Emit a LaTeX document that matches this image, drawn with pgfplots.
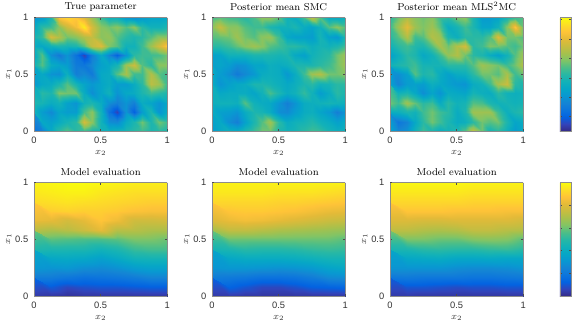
\documentclass[border=0pt]{standalone}
\usepackage{fontspec}
\usepackage{pgfplots}
\usepackage{pgfplotstable}
\pgfplotsset{compat=1.18}
\newfontfamily\tickfont{Liberation Sans}

% every panel: 17 columns x 13 rows on top, 9 x 13 below, row by row from x1=1 down to x1=0
\pgfplotstableread[row sep=\\]{
z\\
1.0\\1.2\\2.0\\4.3\\4.6\\4.4\\4.0\\3.2\\2.4\\1.8\\1.8\\1.2\\1.0\\1.2\\1.4\\1.4\\1.5\\
1.5\\2.2\\2.4\\3.0\\3.7\\4.2\\4.9\\3.8\\3.0\\2.8\\3.0\\2.6\\3.0\\2.2\\1.8\\1.8\\2.0\\
1.9\\2.3\\3.8\\3.4\\2.8\\3.0\\3.4\\3.6\\3.0\\3.1\\2.6\\2.2\\2.0\\2.2\\2.6\\3.0\\3.0\\
1.6\\1.5\\1.8\\2.0\\1.9\\2.0\\2.6\\3.6\\3.9\\2.9\\2.6\\1.8\\1.8\\2.4\\3.2\\3.8\\4.4\\
1.5\\2.6\\0.9\\0.5\\1.0\\0.3\\-0.4\\0.6\\1.5\\0.7\\0.0\\1.0\\2.2\\2.4\\2.4\\2.5\\2.8\\
1.8\\2.6\\1.6\\1.4\\1.2\\0.5\\0.4\\0.8\\1.3\\1.5\\1.9\\3.2\\3.7\\2.6\\2.2\\3.0\\3.0\\
1.4\\1.5\\1.0\\0.9\\1.7\\0.6\\0.8\\0.5\\1.5\\1.6\\2.6\\3.3\\2.4\\2.4\\3.4\\2.6\\2.4\\
1.1\\1.5\\1.6\\2.0\\2.6\\1.9\\1.4\\1.1\\1.4\\1.6\\1.2\\1.2\\1.6\\2.2\\3.5\\3.2\\2.4\\
1.6\\2.2\\2.0\\2.9\\2.8\\2.8\\1.6\\0.9\\1.4\\1.8\\1.0\\1.5\\1.6\\2.0\\2.4\\2.2\\2.0\\
2.0\\1.9\\1.6\\1.8\\1.3\\1.0\\1.8\\2.0\\1.6\\0.9\\0.6\\1.0\\0.6\\1.6\\1.4\\1.0\\1.5\\
1.8\\1.2\\0.8\\1.4\\1.2\\1.2\\2.5\\3.0\\1.8\\0.3\\-0.4\\1.0\\0.0\\1.2\\2.0\\1.0\\1.6\\
1.0\\1.5\\1.3\\1.6\\1.9\\2.2\\3.8\\3.0\\1.8\\0.9\\0.8\\1.6\\2.0\\2.8\\2.0\\2.8\\2.4\\
0.3\\0.6\\1.5\\2.2\\2.6\\2.2\\2.4\\2.0\\1.8\\1.7\\1.8\\2.0\\2.2\\2.4\\2.0\\2.2\\2.0\\
}\trueparam

\pgfplotstableread[row sep=\\]{
z\\
2.5\\2.7\\2.5\\2.4\\2.2\\2.5\\3.0\\3.0\\2.6\\1.8\\1.6\\2.4\\3.5\\2.6\\1.6\\1.6\\1.8\\
3.0\\3.6\\3.0\\3.0\\2.6\\2.4\\2.4\\2.0\\1.8\\1.8\\2.0\\1.6\\1.4\\1.8\\2.6\\3.0\\2.6\\
2.6\\2.7\\2.8\\3.2\\2.8\\2.6\\3.0\\3.1\\2.4\\1.5\\1.3\\1.3\\1.2\\1.9\\1.3\\1.1\\2.0\\
2.2\\2.2\\2.4\\2.7\\3.0\\3.2\\3.0\\2.6\\2.4\\2.2\\2.2\\2.0\\1.7\\1.9\\1.8\\2.0\\2.4\\
1.3\\1.4\\1.8\\1.8\\1.8\\2.0\\2.0\\2.0\\1.9\\2.0\\1.5\\1.3\\1.8\\2.0\\2.2\\2.8\\3.2\\
1.3\\1.4\\1.2\\0.9\\1.0\\1.4\\1.4\\1.7\\1.6\\1.7\\2.0\\2.0\\2.0\\2.2\\2.4\\2.8\\3.2\\
1.6\\1.2\\0.9\\0.5\\0.8\\1.1\\1.6\\1.7\\1.6\\1.1\\1.6\\2.4\\3.2\\3.4\\2.8\\2.8\\3.0\\
1.6\\1.0\\1.3\\1.5\\1.6\\2.0\\2.0\\1.9\\1.7\\1.5\\1.7\\2.0\\2.2\\1.8\\1.9\\2.2\\2.2\\
1.7\\1.5\\1.6\\1.6\\1.6\\1.4\\1.8\\2.5\\2.0\\1.6\\1.8\\2.3\\1.8\\1.2\\1.6\\2.2\\2.0\\
1.7\\1.8\\1.8\\1.7\\2.6\\1.8\\1.6\\1.5\\1.0\\0.6\\1.0\\1.6\\1.7\\1.8\\1.9\\1.8\\1.7\\
1.6\\1.3\\1.2\\1.0\\1.6\\2.0\\1.9\\1.6\\0.9\\0.8\\1.2\\1.6\\1.7\\1.4\\1.1\\0.6\\1.0\\
1.4\\1.5\\0.9\\0.6\\1.3\\2.0\\2.6\\3.2\\2.2\\1.6\\1.8\\1.9\\2.1\\1.8\\1.6\\1.3\\1.6\\
1.2\\1.5\\1.7\\1.6\\2.0\\2.4\\2.8\\2.8\\2.0\\1.8\\1.9\\2.2\\2.4\\2.3\\1.9\\1.7\\1.8\\
}\meansmc

\pgfplotstableread[row sep=\\]{
z\\
2.2\\2.8\\3.4\\3.0\\2.8\\3.0\\2.4\\2.2\\2.8\\3.0\\2.0\\1.2\\1.2\\1.4\\2.0\\2.4\\2.6\\
2.4\\3.2\\4.0\\3.2\\2.9\\3.2\\2.6\\1.6\\1.9\\2.4\\2.0\\1.4\\1.4\\1.8\\3.0\\4.4\\2.8\\
2.2\\2.6\\3.4\\2.4\\2.6\\3.4\\3.2\\2.0\\1.7\\2.2\\2.2\\2.2\\2.6\\3.9\\2.8\\2.8\\2.6\\
1.8\\2.2\\2.4\\2.1\\2.0\\2.6\\3.3\\2.8\\3.4\\3.8\\2.2\\2.4\\2.9\\2.8\\2.6\\2.4\\2.8\\
1.3\\1.7\\2.2\\2.0\\1.5\\1.8\\2.4\\3.1\\3.4\\2.8\\2.2\\2.0\\1.6\\1.3\\1.8\\2.6\\3.2\\
1.8\\2.0\\2.2\\2.4\\1.9\\1.9\\1.9\\2.2\\2.2\\2.2\\2.6\\3.2\\3.0\\2.8\\2.4\\2.8\\3.4\\
1.2\\0.9\\1.3\\2.6\\2.0\\2.2\\1.6\\1.3\\1.6\\1.7\\2.2\\2.8\\2.8\\2.6\\3.3\\2.4\\2.8\\
1.3\\0.7\\1.2\\1.3\\1.2\\1.7\\1.5\\1.3\\1.1\\1.0\\1.6\\1.8\\2.4\\3.3\\3.7\\2.2\\2.0\\
2.2\\1.8\\2.0\\1.5\\0.9\\1.4\\1.0\\1.6\\1.5\\1.4\\1.9\\1.7\\1.6\\2.2\\1.8\\1.7\\1.8\\
2.8\\2.4\\3.2\\2.7\\2.2\\2.4\\1.6\\2.2\\1.8\\1.9\\2.6\\2.5\\2.0\\1.8\\1.9\\1.8\\1.9\\
1.6\\1.7\\2.0\\1.8\\2.4\\2.8\\2.4\\2.2\\1.6\\2.0\\3.2\\3.2\\3.2\\2.4\\1.7\\2.0\\2.2\\
0.9\\0.4\\0.7\\1.5\\2.2\\2.8\\2.4\\2.0\\1.6\\1.7\\2.2\\2.8\\2.6\\2.8\\2.0\\1.4\\1.6\\
1.4\\0.8\\1.0\\1.8\\2.4\\2.0\\1.6\\1.8\\2.0\\2.6\\3.6\\2.8\\1.9\\2.2\\1.7\\1.2\\1.5\\
}\meanmls

\pgfplotstableread[row sep=\\]{
z\\
.98\\.99\\1\\1\\.99\\.98\\.97\\.97\\.97\\
.96\\.97\\.98\\.98\\.96\\.95\\.94\\.94\\.94\\
.93\\.94\\.95\\.94\\.93\\.92\\.91\\.90\\.90\\
.89\\.90\\.91\\.90\\.90\\.89\\.87\\.86\\.86\\
.83\\.82\\.78\\.82\\.88\\.84\\.77\\.77\\.78\\
.72\\.70\\.72\\.76\\.82\\.72\\.72\\.70\\.70\\
.60\\.58\\.57\\.56\\.56\\.58\\.62\\.62\\.60\\
.48\\.47\\.47\\.47\\.44\\.47\\.53\\.55\\.55\\
.38\\.38\\.39\\.38\\.35\\.39\\.44\\.45\\.45\\
.31\\.30\\.31\\.28\\.27\\.29\\.33\\.35\\.35\\
.22\\.22\\.20\\.18\\.19\\.20\\.22\\.25\\.25\\
.14\\.11\\.07\\.09\\.10\\.10\\.11\\.12\\.12\\
.04\\.03\\.02\\.03\\.03\\.03\\.03\\.03\\.03\\
}\evaltrue

\pgfplotstableread[row sep=\\]{
z\\
.98\\.98\\.98\\.98\\.98\\.98\\.98\\.98\\.98\\
.96\\.96\\.96\\.96\\.95\\.95\\.95\\.94\\.93\\
.92\\.92\\.92\\.92\\.91\\.91\\.90\\.89\\.88\\
.88\\.88\\.89\\.89\\.88\\.87\\.85\\.83\\.82\\
.80\\.83\\.85\\.84\\.82\\.80\\.78\\.76\\.75\\
.68\\.74\\.74\\.72\\.70\\.69\\.68\\.67\\.66\\
.60\\.60\\.60\\.60\\.60\\.60\\.60\\.60\\.58\\
.45\\.47\\.50\\.49\\.49\\.50\\.52\\.53\\.52\\
.36\\.38\\.40\\.40\\.40\\.41\\.43\\.45\\.45\\
.30\\.31\\.31\\.30\\.29\\.30\\.32\\.36\\.38\\
.22\\.21\\.20\\.18\\.18\\.19\\.22\\.27\\.28\\
.13\\.13\\.10\\.07\\.07\\.09\\.12\\.13\\.14\\
.04\\.04\\.03\\.03\\.03\\.03\\.03\\.03\\.03\\
}\evalsmc

\pgfplotstableread[row sep=\\]{
z\\
.99\\.99\\.99\\.99\\.99\\.98\\.98\\.98\\.98\\
.96\\.96\\.96\\.96\\.96\\.95\\.95\\.95\\.95\\
.92\\.92\\.92\\.92\\.92\\.91\\.91\\.91\\.91\\
.88\\.88\\.88\\.88\\.87\\.87\\.87\\.86\\.86\\
.80\\.80\\.79\\.79\\.80\\.80\\.80\\.80\\.78\\
.73\\.73\\.71\\.70\\.71\\.74\\.74\\.72\\.71\\
.62\\.62\\.62\\.60\\.60\\.63\\.64\\.63\\.58\\
.46\\.47\\.50\\.51\\.50\\.50\\.52\\.53\\.50\\
.37\\.38\\.39\\.40\\.38\\.38\\.39\\.38\\.38\\
.30\\.30\\.30\\.30\\.28\\.27\\.27\\.28\\.30\\
.20\\.21\\.20\\.20\\.20\\.19\\.19\\.20\\.21\\
.12\\.10\\.10\\.09\\.08\\.09\\.09\\.10\\.10\\
.04\\.04\\.03\\.03\\.03\\.03\\.03\\.03\\.03\\
}\evalmls

% add the grid coordinates: table, columns per row
\newcommand\addgrid[2]{%
  \pgfplotstablecreatecol[expr={mod(\pgfplotstablerow,#2)/(#2-1)}]{x}{#1}%
  \pgfplotstablecreatecol[expr={1-floor(\pgfplotstablerow/#2)/12}]{y}{#1}%
}
\addgrid{\trueparam}{17}
\addgrid{\meansmc}{17}
\addgrid{\meanmls}{17}
\addgrid{\evaltrue}{9}
\addgrid{\evalsmc}{9}
\addgrid{\evalmls}{9}

\pgfplotsset{
  colormap={parula}{
    rgb=(.2081,.1663,.5292) rgb=(.1959,.2645,.7279) rgb=(.0117,.3875,.8820)
    rgb=(.0498,.4586,.8641) rgb=(.0793,.5200,.8312) rgb=(.0343,.5966,.8199)
    rgb=(.0228,.6535,.7768) rgb=(.0689,.6948,.7224) rgb=(.1540,.7200,.6470)
    rgb=(.3000,.7450,.5300) rgb=(.5044,.7693,.3980) rgb=(.6500,.7550,.3000)
    rgb=(.7800,.7400,.2500) rgb=(.8900,.7300,.2200) rgb=(.9970,.7659,.2199)
    rgb=(.9900,.8700,.1500) rgb=(.9763,.9831,.0538)
  },
  colormap name=parula,
  heat/.style={
    scale only axis, width=100pt, height=85pt,
    xmin=0, xmax=1, ymin=0, ymax=1,
    view={0}{90}, axis on top,
    xtick={0,0.5,1}, ytick={0,0.5,1}, ztick=\empty,
    xticklabels={0,0.5,1}, yticklabels={0,0.5,1},
    tick align=inside, major tick length=1.4pt,
    axis line style={color=black!45, line width=0.35pt},
    every tick/.style={color=black!70, line width=0.3pt},
    /pgf/number format/assume math mode=true,
    tick label style={font=\tickfont\fontsize{7}{8}\selectfont, color=black!80},
    xticklabel style={yshift=-1.2pt},
    yticklabel style={xshift=-0.8pt},
    xlabel={$x_2$}, ylabel={$x_1$},
    label style={font=\fontsize{7.5}{8}\selectfont, color=black!80},
    xlabel style={yshift=2pt},
    ylabel style={yshift=-4pt},
    title style={font=\fontsize{7.5}{8}\selectfont, yshift=-4.5pt},
  },
  topbar/.style={point meta min=-0.74, point meta max=5.1},
  lowbar/.style={point meta min=0, point meta max=1},
  sidebar/.style={
    colorbar,
    colorbar style={
      width=8.25pt, xshift=13.5pt,
      ytick={#1}, yticklabels={#1},
      tick align=inside, major tick length=1.4pt,
      axis line style={color=black!45, line width=0.35pt},
    }
  },
}

\begin{document}
\begin{tikzpicture}[x=1pt,y=1pt]
\path[use as bounding box] (0,0) rectangle (429.75,246.75);

\begin{axis}[heat, at={(25.5pt,148.5pt)}, title={True parameter}, topbar]
  \addplot3[surf, shader=interp, mesh/cols=17] table[x=x,y=y,z=z] {\trueparam};
\end{axis}
\begin{axis}[heat, at={(159pt,148.5pt)}, title={Posterior mean SMC}, topbar]
  \addplot3[surf, shader=interp, mesh/cols=17] table[x=x,y=y,z=z] {\meansmc};
\end{axis}
\begin{axis}[heat, at={(292.5pt,148.5pt)}, title={Posterior mean MLS$^2$MC}, topbar,
    sidebar={0,1,2,3,4,5}]
  \addplot3[surf, shader=interp, mesh/cols=17] table[x=x,y=y,z=z] {\meanmls};
\end{axis}

\begin{axis}[heat, at={(25.5pt,24.75pt)}, title={Model evaluation}, lowbar]
  \addplot3[surf, shader=interp, mesh/cols=9] table[x=x,y=y,z=z] {\evaltrue};
\end{axis}
\begin{axis}[heat, at={(159pt,24.75pt)}, title={Model evaluation}, lowbar]
  \addplot3[surf, shader=interp, mesh/cols=9] table[x=x,y=y,z=z] {\evalsmc};
\end{axis}
\begin{axis}[heat, at={(292.5pt,24.75pt)}, title={Model evaluation}, lowbar,
    sidebar={0,0.2,0.4,0.6,0.8,1}]
  \addplot3[surf, shader=interp, mesh/cols=9] table[x=x,y=y,z=z] {\evalmls};
\end{axis}
\end{tikzpicture}
\end{document}
